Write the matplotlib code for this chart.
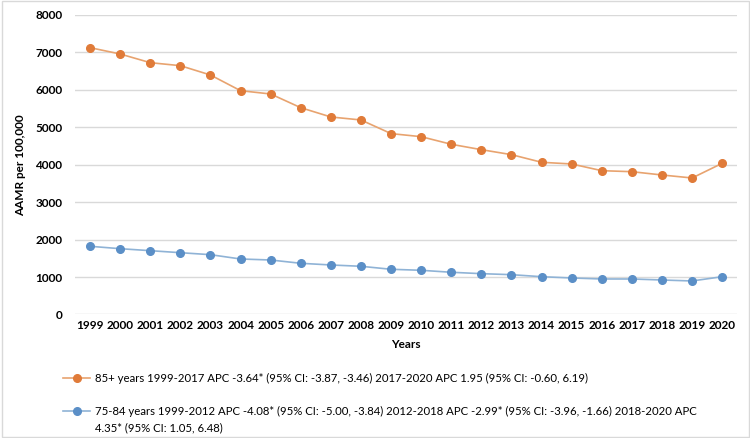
import matplotlib
matplotlib.use("Agg")
import matplotlib.pyplot as plt
from matplotlib.lines import Line2D

plt.rcParams['font.family'] = ['Lato', 'DejaVu Sans']

years = [str(y) for y in range(1999, 2021)]
aamr_85 = [7125, 6956, 6724, 6644, 6395, 5976, 5888, 5522, 5274, 5194, 4830,
           4748, 4545, 4401, 4268, 4064, 4019, 3840, 3813, 3725, 3645, 4037]
aamr_75 = [1821, 1757, 1704, 1650, 1597, 1482, 1455, 1367, 1322, 1287, 1207,
           1180, 1127, 1090, 1063, 1009, 975, 948, 948, 921, 895, 1009]
label_85 = "85+ years 1999-2017 APC -3.64* (95% CI: -3.87, -3.46) 2017-2020 APC 1.95 (95% CI: -0.60, 6.19)"
label_75 = "75-84 years 1999-2012 APC -4.08* (95% CI: -5.00, -3.84) 2012-2018 APC -2.99* (95% CI: -3.96, -1.66) 2018-2020 APC"
label_75_cont = "4.35* (95% CI: 1.05, 6.48)"
yticks = [0, 1000, 2000, 3000, 4000, 5000, 6000, 7000, 8000]

orange_line = '#E8A36F'
orange_mk = '#E07B39'
blue_line = '#8FB3D6'
blue_mk = '#5B8FC7'

fig = plt.figure(figsize=(7.5, 4.38), dpi=100)
ax = fig.add_axes([0.1, 0.282, 0.883, 0.684])
x = list(range(len(years)))
ax.plot(x, aamr_85, color=orange_line, lw=1.2, marker='o', ms=5.5,
        mfc=orange_mk, mec=orange_mk, zorder=3)
ax.plot(x, aamr_75, color=blue_line, lw=1.2, marker='o', ms=5.5,
        mfc=blue_mk, mec=blue_mk, zorder=3)
ax.set_xlim(-0.5, len(years) - 0.5)
ax.set_ylim(0, 8000)
ax.set_yticks(yticks)
ax.set_yticklabels([str(v) for v in yticks], fontsize=8.5, fontweight='bold')
ax.set_xticks(x)
ax.set_xticklabels(years, fontsize=8.5, fontweight='bold')
ax.grid(axis='y', color='#D9D9D9', lw=1)
ax.set_axisbelow(True)
for s in ax.spines.values():
    s.set_visible(False)
ax.tick_params(length=0, pad=4)
ax.tick_params(axis='y', pad=9)
ax.set_xlabel('Years', fontsize=8.5, fontweight='bold', labelpad=6)
ax.set_ylabel('AAMR per 100,000', fontsize=8.5, fontweight='bold', labelpad=7)

handles = [Line2D([0], [0], color=orange_line, lw=1.2, marker='o', ms=5.5, mfc=orange_mk, mec=orange_mk),
           Line2D([0], [0], color=blue_line, lw=1.2, marker='o', ms=5.5, mfc=blue_mk, mec=blue_mk)]
leg = fig.legend(handles, [label_85, label_75], loc='upper left', bbox_to_anchor=(0.078, 0.158),
                 frameon=False, fontsize=8.2, handlelength=2.4, handletextpad=0.4,
                 labelspacing=1.9, borderaxespad=0)

fig.canvas.draw()
bb = leg.get_texts()[1].get_window_extent().transformed(fig.transFigure.inverted())
fig.text(bb.x0, bb.y0 - 0.012, label_75_cont, fontsize=8.2, ha='left', va='top')

fig.patches.append(plt.Rectangle((0.002, 0.002), 0.996, 0.996, transform=fig.transFigure,
                                 fill=False, edgecolor='#D9D9D9', lw=1))
fig.savefig('out.png', dpi=100)
